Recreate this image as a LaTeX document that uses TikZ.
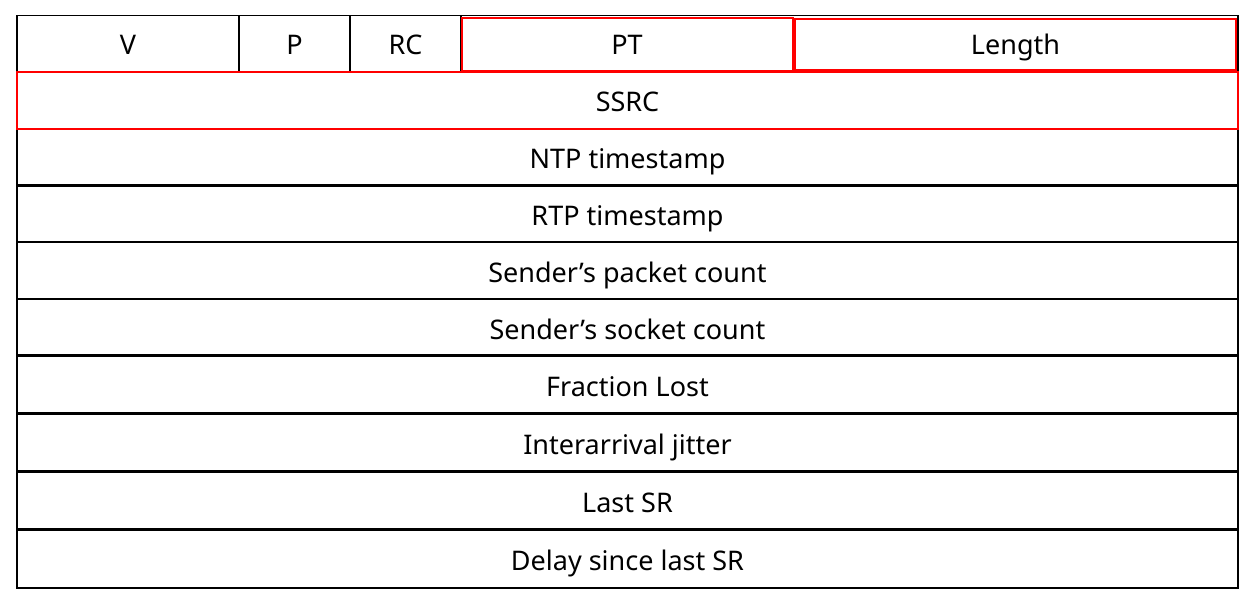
\documentclass[tikz,border=0pt]{standalone}
\usepackage{fontspec}
\setmainfont{Noto Sans}
\begin{document}
\begin{tikzpicture}[x=1pt,y=-1pt,
  thinrule/.style={line width=1.8pt,black},
  thickrule/.style={line width=3.6pt,black},
  redbox/.style={line width=2.2pt,draw=red},
  lbl/.style={anchor=base,inner sep=0pt,font=\fontsize{27}{32}\selectfont}]
\useasboundingbox (0,0) rectangle (1258,607);
% row separators
\draw[thinrule] (17,72) -- (1238,72);
\draw[thinrule] (17,129) -- (1238,129);
\foreach \y in {185.5,355.5,413.5,471.5,529.5}
  \draw[thickrule] (17,\y) -- (1238,\y);
\foreach \y in {242,299}
  \draw[thinrule] (17,\y) -- (1238,\y);
% header field dividers
\foreach \x in {239,350,461}
  \draw[thinrule] (\x,15.5) -- (\x,72);
% outer frame
\draw[thinrule] (17,15.5) rectangle (1238,588);
% highlighted fields
\draw[redbox] (461.7,18.3) rectangle (792.7,71.5);
\draw[redbox,line width=2.6pt] (795,19) rectangle (1236,70.7);
\draw[redbox] (17,72) rectangle (1238,128.7);
% field labels
\node[lbl] (v)   at (128,55)   {V};
\node[lbl] (p)   at (294.5,55) {P};
\node[lbl] (rc)  at (405.5,55) {RC};
\node[lbl] (pt)  at (627,55)   {PT};
\node[lbl] (len) at (1015.5,55) {Length};
\node[lbl] (ssrc) at (627.5,111.5) {SSRC};
\node[lbl] (ntp)  at (627.5,168.5) {NTP timestamp};
\node[lbl] (rtp)  at (627.5,225.5) {RTP timestamp};
\node[lbl] (spc)  at (627.5,282)   {Sender’s packet count};
\node[lbl] (ssc)  at (627.5,339)   {Sender’s socket count};
\node[lbl] (fl)   at (627.5,396)   {Fraction Lost};
\node[lbl] (ij)   at (627.5,454)   {Interarrival jitter};
\node[lbl] (lsr)  at (627.5,512)   {Last SR};
\node[lbl] (dlsr) at (627.5,570)   {Delay since last SR};
\end{tikzpicture}
\end{document}
